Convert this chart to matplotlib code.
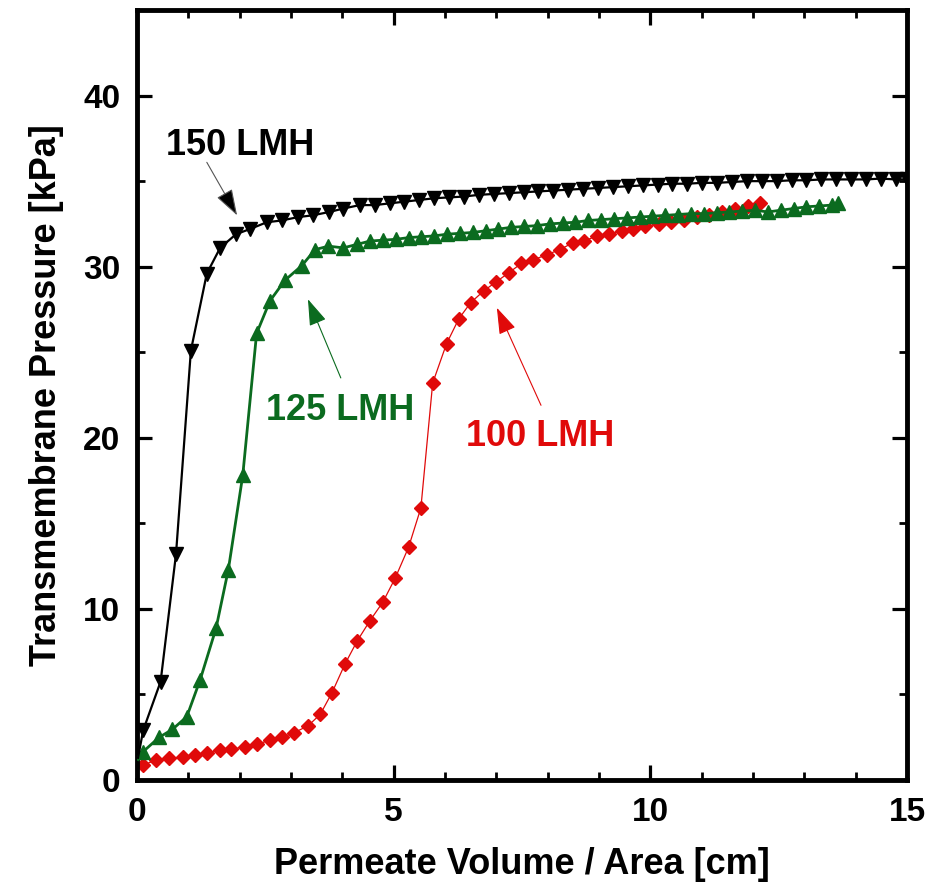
import matplotlib
matplotlib.use("Agg")
import matplotlib.pyplot as plt
from matplotlib.ticker import MultipleLocator

plt.rcParams['font.family'] = ['Liberation Sans', 'DejaVu Sans']
plt.rcParams['font.weight'] = 'bold'

# --- data (x: permeate volume / area [cm], y: TMP [kPa]) ---
lmh150_x = [0.12, 0.46, 0.76, 1.05, 1.36, 1.62, 1.93, 2.20, 2.53, 2.82, 3.14, 3.42,
            3.75, 4.02, 4.34, 4.63, 4.92, 5.21, 5.50, 5.79, 6.08, 6.37, 6.66, 6.95,
            7.24, 7.53, 7.82, 8.11, 8.40, 8.69, 8.98, 9.27, 9.56, 9.85, 10.14, 10.43,
            10.72, 11.01, 11.30, 11.59, 11.88, 12.17, 12.46, 12.75, 13.04, 13.33,
            13.62, 13.91, 14.20, 14.49, 14.78, 15.0]
lmh150_y = [2.9, 5.75, 13.2, 25.1, 29.6, 31.1, 31.9, 32.2, 32.6, 32.7, 32.9, 33.0,
            33.2, 33.4, 33.6, 33.6, 33.7, 33.8, 33.9, 34.0, 34.05, 34.1, 34.2, 34.25,
            34.3, 34.35, 34.4, 34.45, 34.5, 34.55, 34.6, 34.65, 34.7, 34.75, 34.8, 34.85,
            34.85, 34.9, 34.9, 34.95, 35.0, 35.0, 35.0, 35.05, 35.05, 35.1,
            35.1, 35.1, 35.1, 35.15, 35.1, 35.1]

lmh125_x = [0.12, 0.43, 0.69, 0.97, 1.23, 1.54, 1.78, 2.06, 2.33, 2.59, 2.88, 3.21,
            3.47, 3.73, 4.02, 4.28, 4.54, 4.79, 5.04, 5.29, 5.54, 5.79, 6.04, 6.29,
            6.54, 6.79, 7.04, 7.29, 7.54, 7.79, 8.04, 8.29, 8.54, 8.79, 9.04, 9.29,
            9.54, 9.79, 10.04, 10.29, 10.54, 10.79, 11.04, 11.29, 11.54, 11.79, 12.04,
            12.29, 12.54, 12.79, 13.04, 13.29, 13.54, 13.66]
lmh125_y = [1.66, 2.49, 2.96, 3.70, 5.85, 8.87, 12.3, 17.8, 26.1, 28.0, 29.2, 30.06,
            31.0, 31.2, 31.1, 31.3, 31.5, 31.55, 31.6, 31.7, 31.75, 31.8, 31.9, 31.95,
            32.0, 32.1, 32.2, 32.3, 32.35, 32.4, 32.5, 32.55, 32.6, 32.7, 32.75, 32.8,
            32.85, 32.9, 32.95, 33.0, 33.05, 33.1, 33.1, 33.15, 33.2, 33.25, 33.3,
            33.2, 33.3, 33.4, 33.5, 33.55, 33.6, 33.7]

lmh100_x = [0.12, 0.38, 0.63, 0.89, 1.13, 1.37, 1.62, 1.84, 2.10, 2.34, 2.59, 2.83,
            3.06, 3.33, 3.57, 3.80, 4.05, 4.29, 4.54, 4.79, 5.03, 5.29, 5.53, 5.76,
            6.03, 6.27, 6.50, 6.76, 6.99, 7.25, 7.49, 7.72, 7.98, 8.24, 8.49, 8.71,
            8.96, 9.20, 9.44, 9.67, 9.90, 10.17, 10.40, 10.65, 10.90, 11.15, 11.40,
            11.65, 11.90, 12.14]
lmh100_y = [0.88, 1.17, 1.27, 1.33, 1.46, 1.56, 1.75, 1.79, 1.95, 2.08, 2.34, 2.49,
            2.77, 3.16, 3.84, 5.11, 6.77, 8.13, 9.32, 10.4, 11.8, 13.6, 15.9, 23.2,
            25.5, 26.96, 27.9, 28.6, 29.1, 29.66, 30.2, 30.4, 30.7, 31.0, 31.4, 31.5,
            31.8, 31.9, 32.1, 32.2, 32.35, 32.5, 32.6, 32.75, 32.9, 33.05, 33.2,
            33.4, 33.55, 33.7]

# label text, label position, arrow tail, arrow tip
label_text = ['150 LMH', '125 LMH', '100 LMH']
label_pos = [(2.0, 37.1), (3.95, 21.6), (7.85, 20.1)]
arrow_tail = [(1.36, 36.1), (3.97, 23.5), (7.87, 21.9)]
arrow_tip = [(1.95, 33.0), (3.33, 28.1), (7.01, 27.6)]

black = 'black'
green = '#0b6b1f'
red = '#e00a0a'
text_cols = [black, green, red]
shaft_cols = ['#555555', green, red]

fig = plt.figure(figsize=(9.3, 8.88), dpi=100)
ax = fig.add_axes([0.1473, 0.1216, 0.828, 0.8671])

ax.plot([0.02] + lmh150_x, [1.3] + lmh150_y, color=black, lw=1.6, marker='v', ms=10,
        markevery=slice(1, None), zorder=4)
ax.plot([0.02] + lmh125_x, [1.2] + lmh125_y, color=green, lw=2.0, marker='^', ms=10,
        markevery=slice(1, None), zorder=3)
ax.plot([0.0] + lmh100_x, [0.8] + lmh100_y, color=red, lw=0.9, marker='D', ms=6.8,
        markevery=slice(1, None), zorder=2)

for txt, pos, tail, tip, tc, sc in zip(label_text, label_pos, arrow_tail, arrow_tip,
                                       text_cols, shaft_cols):
    ax.text(pos[0], pos[1], txt, color=tc, fontsize=26, fontweight='bold',
            ha='center', va='center', zorder=6)
    ax.annotate('', xy=tip, xytext=tail,
                arrowprops=dict(arrowstyle='-|>,head_length=0.75,head_width=0.25',
                                mutation_scale=22, lw=0.8, color=sc, fc=tc, ec=sc,
                                shrinkA=0, shrinkB=0),
                zorder=5)

ax.set_xlim(0, 15)
ax.set_ylim(0, 45)
ax.xaxis.set_major_locator(MultipleLocator(5))
ax.xaxis.set_minor_locator(MultipleLocator(1))
ax.yaxis.set_major_locator(MultipleLocator(10))
ax.yaxis.set_minor_locator(MultipleLocator(5))
ax.tick_params(which='both', direction='in', top=True, right=True)
ax.tick_params(which='major', length=11, width=2.3, labelsize=24, pad=12)
ax.tick_params(which='minor', length=5.5, width=2.0)
for s in ax.spines.values():
    s.set_linewidth(3.5)
for lab in ax.get_xticklabels() + ax.get_yticklabels():
    lab.set_fontweight('bold')

ax.set_xlabel('Permeate Volume / Area [cm]', fontsize=26, fontweight='bold', labelpad=14)
ax.set_ylabel('Transmembrane Pressure [kPa]', fontsize=26, fontweight='bold', labelpad=14)

fig.savefig('out.png', dpi=100)
